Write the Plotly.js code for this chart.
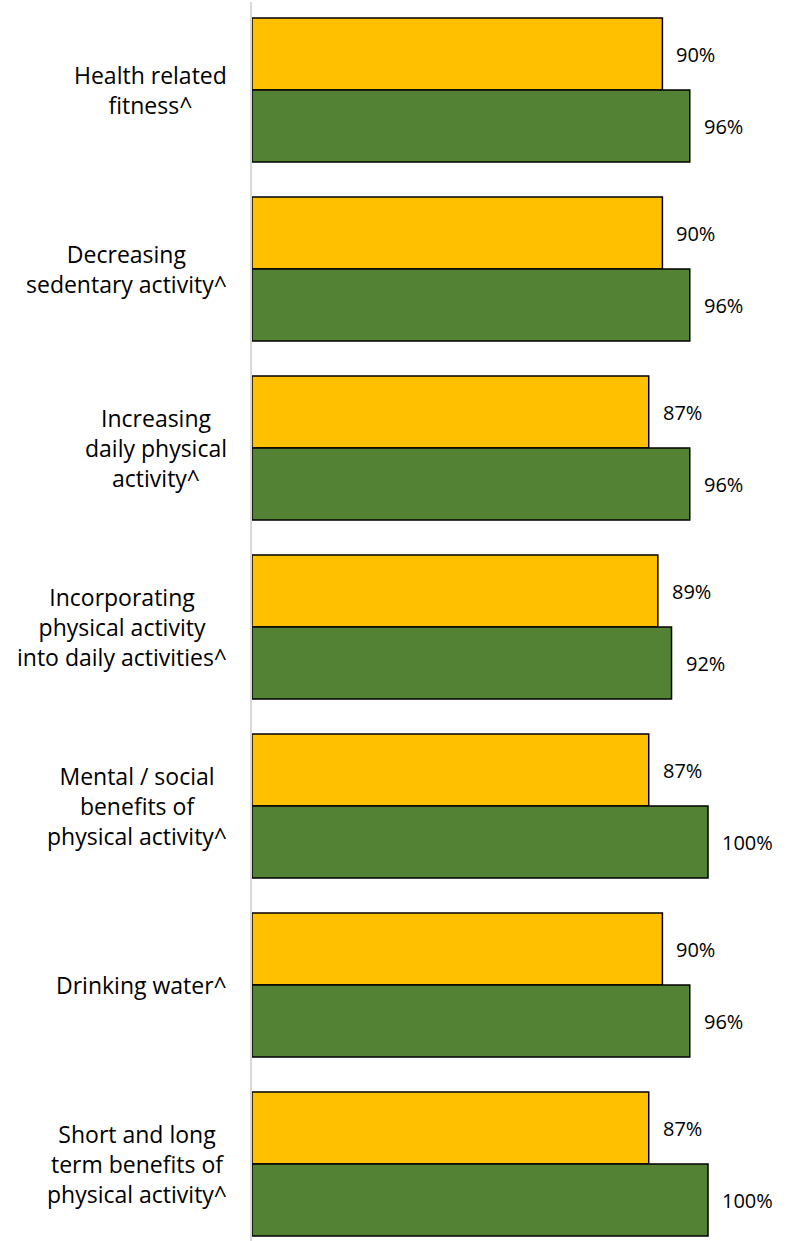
<!DOCTYPE html>
<html>
<head>
<meta charset="utf-8">
<script src="https://cdn.plot.ly/plotly-3.0.1.min.js"></script>
<style>
  html, body { margin: 0; padding: 0; background: #ffffff; }
  #chart { width: 788px; height: 1241px; }
</style>
</head>
<body>
<div id="chart"></div>
<script>
// ---- Data ----
const categories = [
  "Health related<br>fitness^",
  "Decreasing<br>sedentary activity^",
  "Increasing<br>daily physical<br>activity^",
  "Incorporating<br>physical activity<br>into daily activities^",
  "Mental / social<br>benefits of<br>physical activity^",
  "Drinking water^",
  "Short and long<br>term benefits of<br>physical activity^"
];
const seriesNames = ["Series 1", "Series 2"];
const yellowValues = [90, 90, 87, 89, 87, 90, 87];
const greenValues  = [96, 96, 96, 92, 100, 96, 100];
const seriesColors = ["#FFC000", "#548235"];
const valueSuffix = "%";

// ---- Layout constants ----
const W = 788, H = 1241;
const marginL = 252, marginR = 0, marginT = 2, marginB = 0;
const xMax = 117.54;
const plotH = H - marginT - marginB;
const pitch = 179;              // px per category
const firstCenter = 88;         // px from plot top
const yTop = -firstCenter / pitch;
const yBottom = (plotH - firstCenter) / pitch;
const barHalf = 36;             // px offset of each bar center from category center

const traces = [yellowValues, greenValues].map((vals, k) => ({
  type: "bar",
  orientation: "h",
  name: seriesNames[k],
  x: vals,
  y: categories,
  marker: { color: seriesColors[k], line: { color: "#000000", width: 1.5 } },
  hoverinfo: "x+y",
  showlegend: false
}));

const annotations = [];
// Category labels (right-aligned block, centered lines)
categories.forEach((c) => {
  annotations.push({
    xref: "paper", yref: "y",
    x: (229 - marginL) / (W - marginL - marginR),
    y: c,
    text: c,
    showarrow: false,
    xanchor: "right",
    yanchor: "middle",
    align: "center",
    font: { family: "Open Sans, sans-serif", size: 23, color: "#000000" }
  });
});
// Value labels
[yellowValues, greenValues].forEach((vals, k) => {
  vals.forEach((v, i) => {
    annotations.push({
      xref: "x", yref: "y",
      x: v, y: categories[i],
      text: v + valueSuffix,
      showarrow: false,
      xanchor: "left",
      yanchor: "middle",
      xshift: 12,
      yshift: k === 0 ? barHalf : -barHalf,
      font: { family: "Open Sans, sans-serif", size: 20, color: "#000000" }
    });
  });
});

const layout = {
  width: W, height: H,
  margin: { l: marginL, r: marginR, t: marginT, b: marginB, pad: 0 },
  paper_bgcolor: "#ffffff",
  plot_bgcolor: "#ffffff",
  barmode: "group",
  bargap: 0.1955,
  bargroupgap: 0,
  xaxis: {
    range: [0, xMax],
    visible: false,
    showgrid: false,
    zeroline: false,
    fixedrange: true
  },
  yaxis: {
    type: "category",
    range: [yBottom, yTop],
    showticklabels: false,
    ticks: "",
    showgrid: false,
    zeroline: false,
    showline: true,
    linecolor: "#d9d9d9",
    linewidth: 2,
    fixedrange: true
  },
  annotations: annotations,
  showlegend: false
};

Plotly.newPlot("chart", traces, layout, { displayModeBar: false, staticPlot: true });
</script>
</body>
</html>
